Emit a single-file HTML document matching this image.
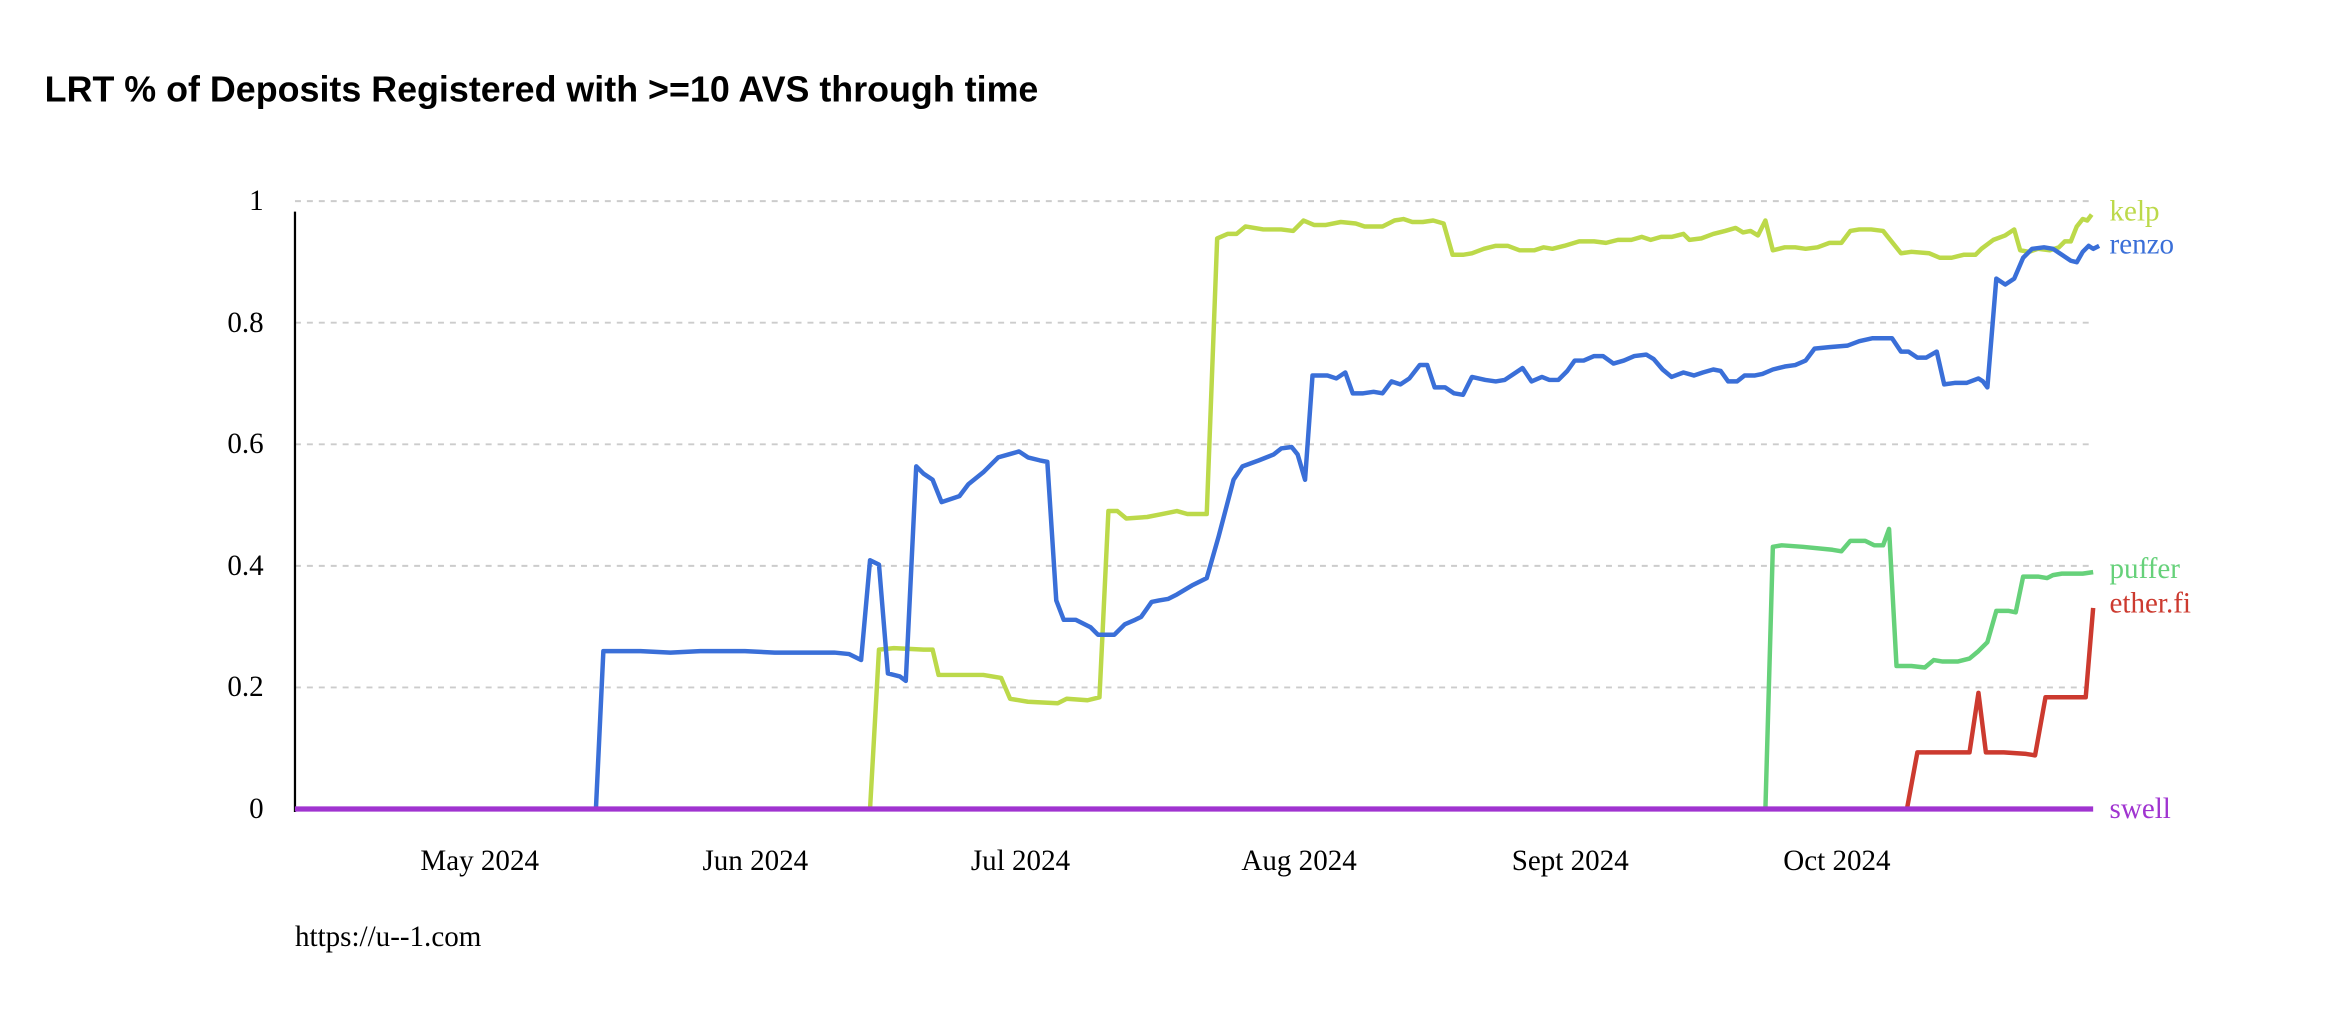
<!DOCTYPE html>
<html><head><meta charset="utf-8"><style>html,body{margin:0;padding:0;background:#fff;overflow:hidden}</style></head>
<body>
<svg width="2336" height="1020" viewBox="0 0 1568 684.6" preserveAspectRatio="none" xmlns="http://www.w3.org/2000/svg">
<rect width="1568" height="684.6" fill="#fff"/>
<text x="30" y="68" font-family="Liberation Sans, Arial, sans-serif" font-weight="bold" font-size="24" fill="#000" textLength="667" lengthAdjust="spacingAndGlyphs">LRT % of Deposits Registered with &gt;=10 AVS through time</text>
<g stroke="#ccc" stroke-width="1.3" stroke-dasharray="4,4">
<line x1="198" y1="135" x2="1402" y2="135"/>
<line x1="198" y1="216.6" x2="1402" y2="216.6"/>
<line x1="198" y1="298.2" x2="1402" y2="298.2"/>
<line x1="198" y1="379.8" x2="1402" y2="379.8"/>
<line x1="198" y1="461.4" x2="1402" y2="461.4"/>
</g>
<line x1="198" y1="142" x2="198" y2="545" stroke="#000" stroke-width="1.5"/>
<g font-family="Liberation Serif, Times New Roman, serif" font-size="19.5" fill="#000" text-anchor="end">
<text x="177" y="141">1</text><text x="177" y="223">0.8</text><text x="177" y="304">0.6</text>
<text x="177" y="386">0.4</text><text x="177" y="467">0.2</text><text x="177" y="549">0</text>
</g>
<g font-family="Liberation Serif, Times New Roman, serif" font-size="19.5" fill="#000" text-anchor="middle">
<text x="322" y="584">May 2024</text><text x="507" y="584">Jun 2024</text><text x="685" y="584">Jul 2024</text>
<text x="872" y="584">Aug 2024</text><text x="1054" y="584">Sept 2024</text><text x="1233" y="584">Oct 2024</text>
</g>
<text x="198" y="635" font-family="Liberation Serif, Times New Roman, serif" font-size="19.5" fill="#000">https://u--1.com</text>
<g fill="none" stroke-width="3" stroke-linejoin="round">
<polyline stroke="#bcd94a" points="198,543 584,543 590,436 600,435 620,436 626,436 630,453 660,453 672,455 678,469 690,471 710,472 716,469 730,470 738,468 744,343 750,343 756,348 770,347 780,345 790,343 797,345 810,345 817,160 824,157 830,157 836,152 848,154 860,154 868,155 875,148 882,151 890,151 900,149 910,150 916,152 928,152 936,148 942,147 948,149 955,149 962,148 969,150 975,171 982,171 988,170 996,167 1004,165 1012,165 1020,168 1030,168 1036,166 1042,167 1050,165 1060,162 1070,162 1078,163 1086,161 1095,161 1102,159 1108,161 1115,159 1122,159 1130,157 1134,161 1142,160 1150,157 1158,155 1165,153 1170,156 1175,155 1180,158 1185,148 1190,168 1198,166 1205,166 1212,167 1220,166 1228,163 1236,163 1242,155 1248,154 1256,154 1264,155 1276,170 1283,169 1295,170 1302,173 1310,173 1318,171 1326,171 1330,167 1338,161 1346,158 1352,154 1356,168 1362,169 1368,167 1376,168 1382,166 1386,162 1390,162 1394,152 1398,147 1401,148 1404,144"/>
<polyline stroke="#3a6fd8" points="198,543 400,543 405,437 430,437 450,438 470,437 500,437 520,438 560,438 570,439 578,443 584,376 590,379 596,452 604,454 608,457 615,313 620,318 626,322 632,337 644,333 650,325 660,317 670,307 677,305 684,303 690,307 698,309 703,310 709,403 714,416 722,416 728,419 732,421 737,426 741,426 748,426 755,419 762,416 766,414 773,404 778,403 784,402 790,399 800,393 810,388 818,360 828,322 834,313 845,309 855,305 860,301 867,300 871,305 876,322 881,252 891,252 897,254 903,250 908,264 915,264 922,263 928,264 934,256 940,258 946,254 953,245 958,245 963,260 970,260 976,264 982,265 988,253 997,255 1004,256 1010,255 1016,251 1022,247 1028,256 1035,253 1040,255 1046,255 1052,249 1057,242 1063,242 1070,239 1076,239 1083,244 1090,242 1097,239 1105,238 1110,241 1116,248 1122,253 1130,250 1137,252 1143,250 1150,248 1155,249 1160,256 1166,256 1171,252 1178,252 1183,251 1190,248 1198,246 1205,245 1212,242 1218,234 1228,233 1240,232 1248,229 1257,227 1270,227 1276,236 1281,236 1287,240 1293,240 1300,236 1305,258 1312,257 1320,257 1328,254 1331,256 1334,260 1340,187 1346,191 1352,187 1358,173 1364,167 1372,166 1378,167 1384,171 1390,175 1394,176 1398,169 1402,165 1405,167 1409,165"/>
<polyline stroke="#66d17a" points="198,543 1185,543 1190,367 1196,366 1210,367 1230,369 1236,370 1242,363 1252,363 1258,366 1264,366 1268,355 1273,447 1283,447 1292,448 1298,443 1304,444 1314,444 1322,442 1328,437 1334,431 1340,410 1348,410 1353,411 1358,387 1368,387 1374,388 1378,386 1384,385 1398,385 1405,384"/>
<polyline stroke="#cc3a2f" points="198,543 1280,543 1287,505 1300,505 1318,505 1322,505 1328,465 1333,505 1345,505 1360,506 1366,507 1373,468 1383,468 1397,468 1400,468 1405,408"/>
<line x1="198" y1="543" x2="1405" y2="543" stroke="#a034d0" stroke-width="3.5"/>
</g>
<g font-family="Liberation Serif, Times New Roman, serif" font-size="19.5">
<text x="1416" y="148" fill="#bcd94a">kelp</text>
<text x="1416" y="170" fill="#3a6fd8">renzo</text>
<text x="1416" y="388" fill="#66d17a">puffer</text>
<text x="1416" y="411" fill="#cc3a2f">ether.fi</text>
<text x="1416" y="549" fill="#a034d0">swell</text>
</g>
</svg>
</body></html>
